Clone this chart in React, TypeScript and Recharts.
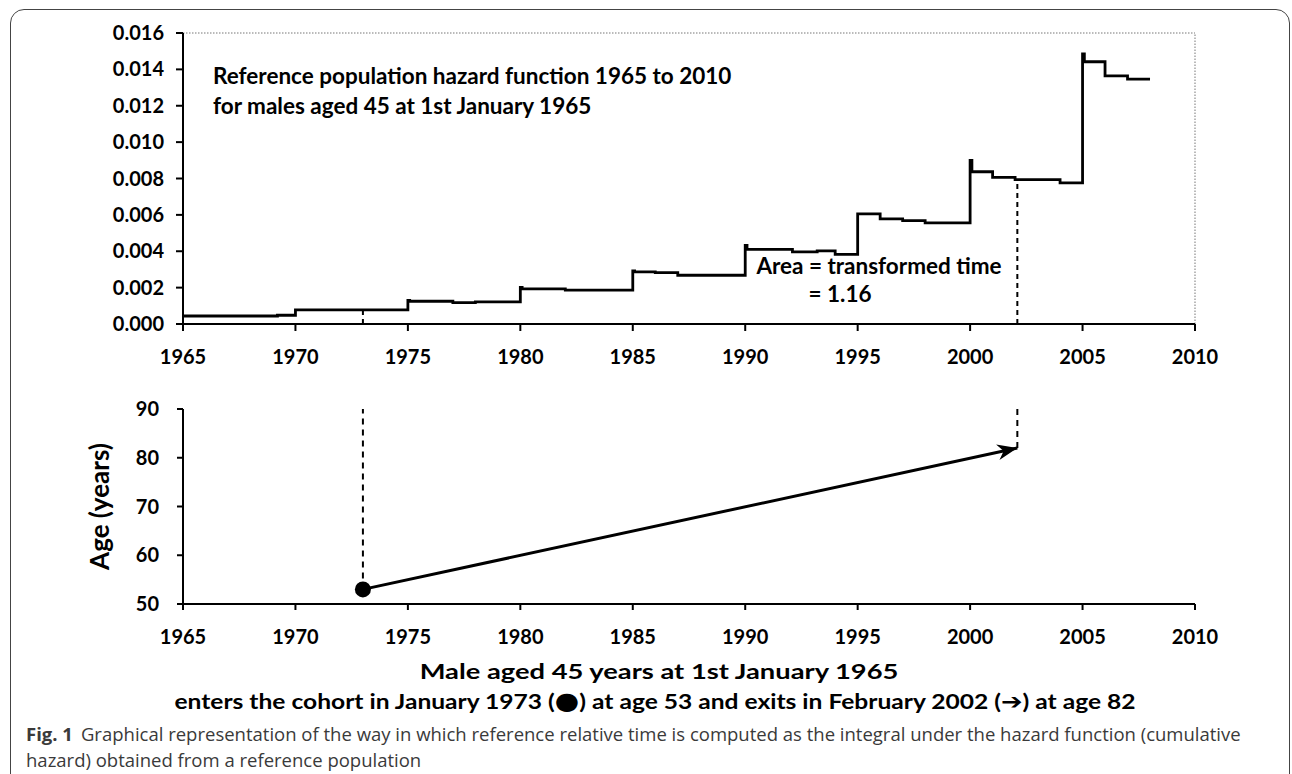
import { LineChart, Line, XAxis, YAxis, ReferenceLine } from 'recharts'

// hazard step function (year where each step starts)
const hazardYears = [
  1965, 1969.2, 1970, 1975, 1975.08, 1977, 1978, 1980, 1980.08, 1982,
  1985, 1985.08, 1986, 1987, 1990, 1990.08, 1992.1, 1993.2, 1994,
  1995, 1996, 1997, 1998, 2000, 2000.08, 2001, 2002, 2004,
  2005, 2005.08, 2006, 2007, 2008,
]
const hazardRates = [
  0.00044, 0.00048, 0.00078, 0.0013, 0.00125, 0.00118, 0.00122, 0.00201, 0.00193, 0.00186,
  0.00292, 0.00287, 0.00282, 0.00268, 0.00432, 0.0041, 0.00397, 0.00402, 0.00383,
  0.00606, 0.00578, 0.00568, 0.00556, 0.009, 0.00837, 0.00806, 0.00794, 0.00776,
  0.01485, 0.01442, 0.01364, 0.01346, 0.01346,
]

const yearTicks = [1965, 1970, 1975, 1980, 1985, 1990, 1995, 2000, 2005, 2010]
const hazardTicks = [0, 0.002, 0.004, 0.006, 0.008, 0.01, 0.012, 0.014, 0.016]
const ageTicks = [50, 60, 70, 80, 90]

const entryYear = 1973
const exitYear = 2002.1
const entryAge = 53
const exitAge = 82

const hazardData = hazardYears.map((year, i) => ({ year, rate: hazardRates[i] }))
const cohortData = [
  { year: entryYear, age: entryAge },
  { year: exitYear, age: exitAge },
]

function hazardAt(year: number) {
  let v = hazardRates[0]
  hazardYears.forEach((y, i) => {
    if (y <= year) v = hazardRates[i]
  })
  return v
}

const tickStyle = { fontSize: 20, fontWeight: 700, fill: '#000' }
const axisStroke = { stroke: '#000', strokeWidth: 2 }

function CohortDot(props: any) {
  const { cx, cy, index, points } = props
  if (index === 0) return <circle key="start" cx={cx} cy={cy} r={8} fill="#000" />
  const p0 = points && points[0]
  const ang = p0 ? Math.atan2(cy - p0.y, cx - p0.x) : -0.21
  const c = Math.cos(ang)
  const s = Math.sin(ang)
  const len = 20
  const half = 8
  const notch = 14
  const bx = cx - len * c
  const by = cy - len * s
  const pts = [
    [cx, cy],
    [bx - half * s, by + half * c],
    [cx - notch * c, cy - notch * s],
    [bx + half * s, by - half * c],
  ]
  return <polygon key="end" points={pts.map((p) => p.join(',')).join(' ')} fill="#000" />
}

const textBold = { position: 'absolute' as const, fontWeight: 700, fontSize: 22.5, color: '#000', whiteSpace: 'nowrap' as const }
const wideBold = { ...textBold, fontSize: 21, transformOrigin: 'center' }

export default function App() {
  return (
    <div style={{ position: 'absolute', left: 0, top: 0, width: 1292, height: 774, overflow: 'hidden', background: '#fff', fontFamily: 'Lato' }}>
      <div style={{ position: 'absolute', left: 10, top: 9, width: 1278, height: 820, border: '1.5px solid #444', borderRadius: 14 }} />

      <div style={{ position: 'absolute', left: 0, top: 0 }}>
        <LineChart width={1292} height={400} data={hazardData} margin={{ top: 33, right: 97, bottom: 0, left: 0 }}>
          <XAxis
            dataKey="year"
            type="number"
            domain={[1965, 2010]}
            ticks={yearTicks}
            allowDataOverflow
            height={76}
            tick={tickStyle}
            tickSize={7}
            tickMargin={19}
            axisLine={axisStroke}
            tickLine={axisStroke}
          />
          <YAxis
            domain={[0, 0.016]}
            ticks={hazardTicks}
            width={183}
            tick={tickStyle}
            tickSize={7}
            tickMargin={12}
            tickFormatter={(v: number) => v.toFixed(3)}
            axisLine={axisStroke}
            tickLine={axisStroke}
          />
          <ReferenceLine y={0.016} stroke="#777" strokeDasharray="1.5 1.5" strokeWidth={1} />
          <ReferenceLine x={2010} stroke="#777" strokeDasharray="1.5 1.5" strokeWidth={1} />
          <ReferenceLine
            segment={[{ x: entryYear, y: 0 }, { x: entryYear, y: hazardAt(entryYear) }]}
            stroke="#000"
            strokeWidth={2}
            strokeDasharray="5 4"
          />
          <ReferenceLine
            segment={[{ x: exitYear, y: 0 }, { x: exitYear, y: hazardAt(exitYear) }]}
            stroke="#000"
            strokeWidth={2}
            strokeDasharray="5 4"
          />
          <Line
            type="stepAfter"
            dataKey="rate"
            stroke="#000"
            strokeWidth={2.8}
            dot={false}
            activeDot={false}
            isAnimationActive={false}
          />
        </LineChart>
      </div>

      <div style={{ ...textBold, left: 213, top: 62 }}>Reference population hazard function 1965 to 2010</div>
      <div style={{ ...textBold, left: 213, top: 92 }}>for males aged 45 at 1st January 1965</div>
      <div style={{ ...textBold, left: 679, width: 400, textAlign: 'center', top: 252 }}>Area = transformed time</div>
      <div style={{ ...textBold, left: 700, width: 280, textAlign: 'center', top: 280 }}>= 1.16</div>

      <div style={{ position: 'absolute', left: 0, top: 370 }}>
        <LineChart width={1292} height={300} data={cohortData} margin={{ top: 39, right: 97, bottom: 0, left: 0 }}>
          <XAxis
            dataKey="year"
            type="number"
            domain={[1965, 2010]}
            ticks={yearTicks}
            allowDataOverflow
            height={66}
            tick={tickStyle}
            tickSize={6}
            tickMargin={20}
            axisLine={axisStroke}
            tickLine={axisStroke}
          />
          <YAxis
            domain={[50, 90]}
            ticks={ageTicks}
            width={183}
            tick={tickStyle}
            tickSize={6}
            tickMargin={18}
            axisLine={axisStroke}
            tickLine={axisStroke}
            label={{
              value: 'Age (years)',
              angle: -90,
              position: 'insideLeft',
              offset: 100,
              style: { textAnchor: 'middle', fontSize: 26, fontWeight: 700, fill: '#000' },
            }}
          />
          <ReferenceLine
            segment={[{ x: entryYear, y: entryAge }, { x: entryYear, y: 90 }]}
            stroke="#000"
            strokeWidth={2}
            strokeDasharray="6 5"
          />
          <ReferenceLine
            segment={[{ x: exitYear, y: exitAge }, { x: exitYear, y: 90 }]}
            stroke="#000"
            strokeWidth={2}
            strokeDasharray="6 5"
          />
          <Line
            type="linear"
            dataKey="age"
            stroke="#000"
            strokeWidth={3}
            dot={CohortDot}
            activeDot={false}
            isAnimationActive={false}
          />
        </LineChart>
      </div>

      <div style={{ ...wideBold, left: 0, width: 1318, textAlign: 'center', top: 658, transform: 'scaleX(1.3)' }}>
        Male aged 45 years at 1st January 1965
      </div>
      <div style={{ ...wideBold, left: 0, width: 1310, textAlign: 'center', top: 687, transform: 'scaleX(1.17)' }}>
        enters the cohort in January 1973 (<span style={{ fontSize: 24, fontFamily: 'DejaVu Sans' }}>●</span>) at age 53 and exits in February 2002 (<span style={{ fontSize: 22, fontFamily: 'DejaVu Sans' }}>➔</span>) at age 82
      </div>

      <div style={{ position: 'absolute', left: 26, top: 721, fontSize: 18.5, lineHeight: '26px', color: '#3a3a3a', whiteSpace: 'nowrap', fontFamily: 'Open Sans' }}>
        <div>
          <span style={{ fontWeight: 700, marginRight: 8 }}>Fig. 1</span>
          <span>Graphical representation of the way in which reference relative time is computed as the integral under the hazard function (cumulative</span>
        </div>
        <div>hazard) obtained from a reference population</div>
      </div>
    </div>
  )
}
